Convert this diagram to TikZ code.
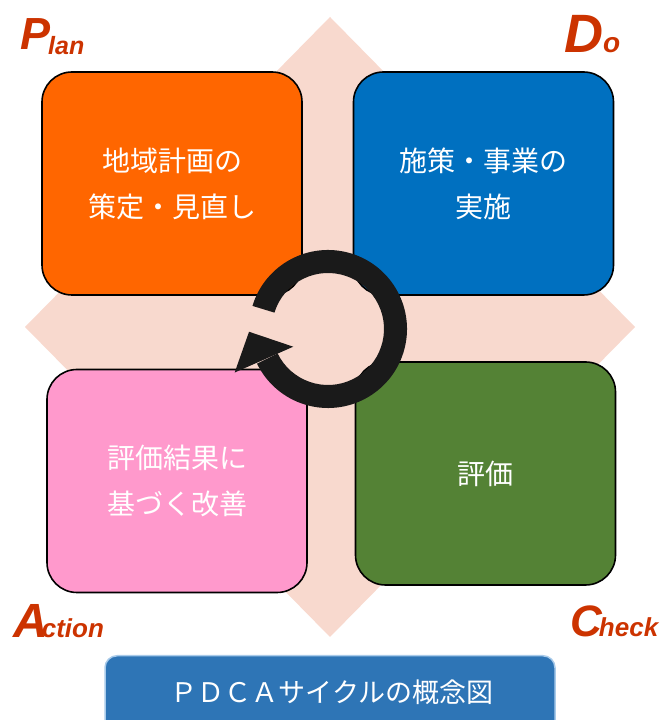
\documentclass[tikz,border=0pt]{standalone}
\usepackage{fontspec}
\usetikzlibrary{calc}
\newfontfamily\jpfont{Noto Sans CJK JP}
\newfontfamily\labfont{Liberation Sans}
\definecolor{diam}{HTML}{F8D9CE}
\definecolor{planc}{HTML}{FF6600}
\definecolor{doc}{HTML}{0070C0}
\definecolor{actc}{HTML}{FF99CC}
\definecolor{chkc}{HTML}{548235}
\definecolor{labc}{HTML}{CC3300}
\definecolor{capc}{HTML}{2E75B6}
\definecolor{capb}{HTML}{A9CBEA}
\definecolor{ringc}{HTML}{1A1A1A}
\begin{document}
\begin{tikzpicture}[x=1pt,y=1pt,
  box/.style={draw=black,line width=1.6pt,rounded corners=30pt,minimum width=260pt,
    minimum height=223pt,inner sep=0pt,text=white,align=center,
    font=\jpfont\fontsize{28}{46}\selectfont},
  lbl/.style={inner sep=0pt,anchor=base west,text=labc,
    font=\labfont\bfseries\itshape}]
\useasboundingbox (0,0) rectangle (665,720);
% background diamond
\fill[diam] (330,703) -- (635,393) -- (330,83) -- (25,393) -- cycle;
% four boxes
\node[box,fill=planc] (plan) at (172,536.5) {地域計画の\\策定・見直し};
\node[box,fill=doc]   (do)   at (483.5,536.5) {施策・事業の\\実施};
\node[box,fill=actc]  (act)  at (177,239) {評価結果に\\基づく改善};
\node[box,fill=chkc]  (chk)  at (485.5,246.5) {評価};
% circular arrow
\coordinate (cyc) at (328,391);
\fill[ringc] ($(cyc)+(163:79pt)$) arc[start angle=163,end angle=-154,radius=79pt]
  -- ($(cyc)+(-154:56pt)$) arc[start angle=-154,end angle=163,radius=56pt] -- cycle;
\fill[ringc] ($(cyc)+(182:79pt)$) -- ($(cyc)+(207:39pt)$) -- ($(cyc)+(205:103pt)$) -- cycle;
% labels
\node[lbl] (lplan) at (20,670) {{\fontsize{45}{45}\selectfont P}\kern-2pt\raisebox{-5pt}{\fontsize{25}{25}\selectfont lan}};
\node[lbl] (ldo) at (564,667) {{\fontsize{54}{54}\selectfont D}{\fontsize{28}{28}\selectfont o}};
\node[lbl] (lact) at (13,82) {{\fontsize{48}{48}\selectfont A}\kern-6pt{\fontsize{26}{26}\selectfont ction}};
\node[lbl] (lchk) at (570,83) {{\fontsize{44}{44}\selectfont C}\kern-3pt{\fontsize{26}{26}\selectfont heck}};
% caption
\node[draw=capb,line width=1.5pt,fill=capc,rounded corners=12pt,minimum width=450pt,
  minimum height=90pt,anchor=north,inner sep=0pt] (cap) at (330,65) {};
\node[text=white,inner sep=0pt,font=\jpfont\fontsize{27}{30}\selectfont] (capt) at (332,28) {ＰＤＣＡサイクルの概念図};
\end{tikzpicture}
\end{document}
